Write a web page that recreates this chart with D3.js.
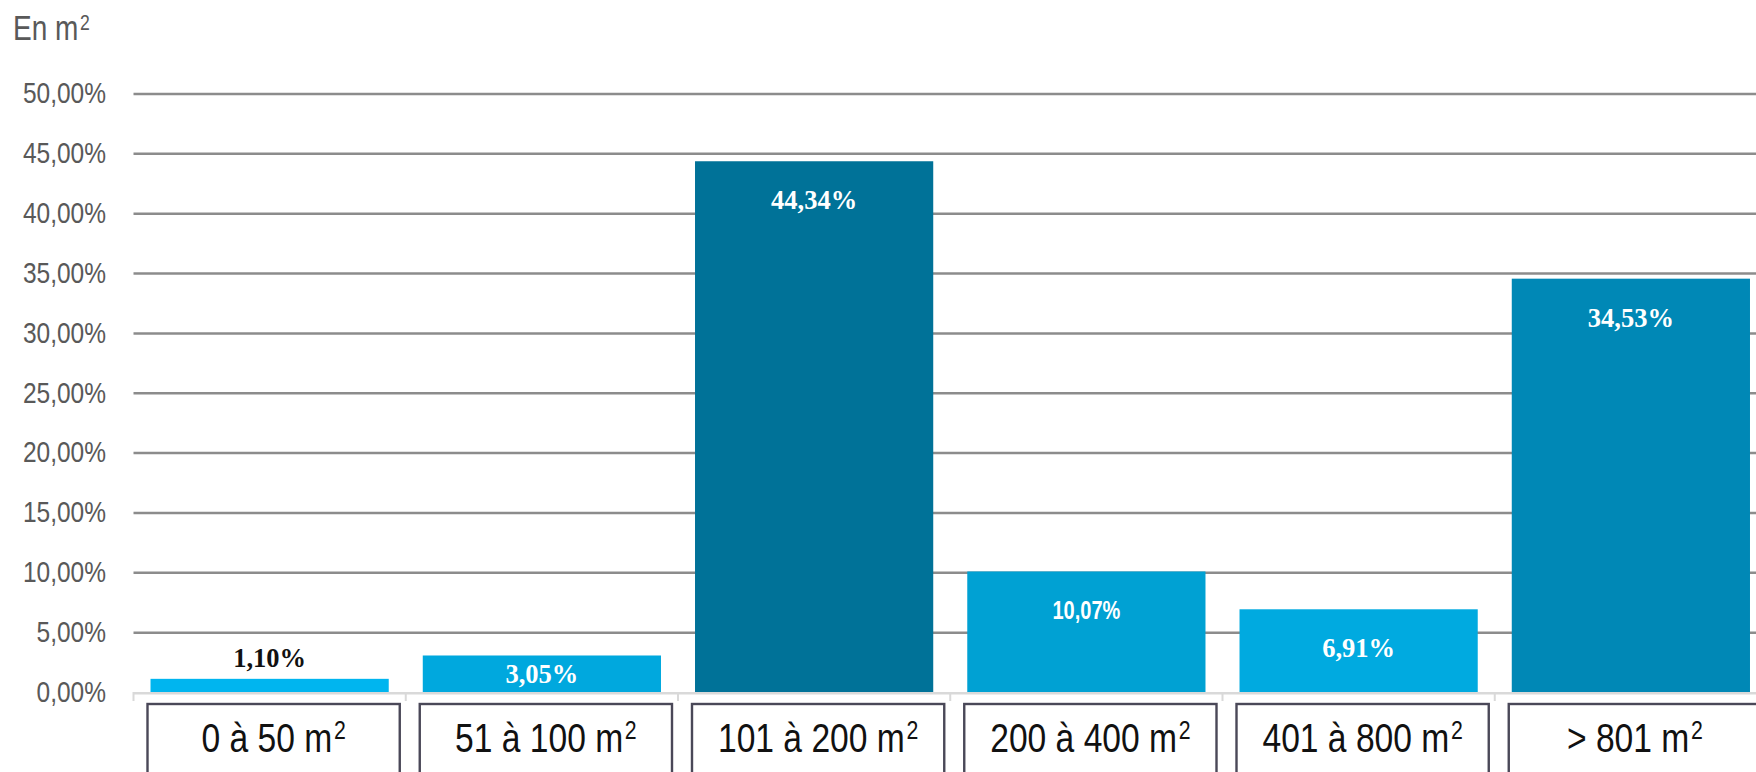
<!DOCTYPE html>
<html>
<head>
<meta charset="utf-8">
<script src="https://cdn.jsdelivr.net/npm/d3@7"></script>
<style>
  html, body { margin: 0; padding: 0; background: #ffffff; overflow: hidden; }
  svg { display: block; }
</style>
</head>
<body>
<svg id="chart" width="1756" height="772"></svg>
<script>
// Surface bands and their share of the total
const categories = ["0 à 50 m²", "51 à 100 m²", "101 à 200 m²", "200 à 400 m²", "401 à 800 m²", "> 801 m²"];
const shares = [1.10, 3.05, 44.34, 10.07, 6.91, 34.53];
const barColors = ["#00b5ef", "#00a8de", "#007298", "#00a1d3", "#00aae0", "#0088b6"];
const yTicks = [0, 5, 10, 15, 20, 25, 30, 35, 40, 45, 50];
const unitTitle = "En m²";

// Condensed look: a sans face squeezed horizontally
const SANS = '"Liberation Sans", Arial, sans-serif';
const SERIF = '"Liberation Serif", "Times New Roman", serif';

const fr = d3.formatLocale({ decimal: ",", thousands: " ", grouping: [3], currency: ["", " €"] });
const pct = v => fr.format(".2f")(v) + "%";

const svg = d3.select("#chart");

const x = d3.scaleBand()
  .domain(categories)
  .range([133.5, 1767])
  .paddingInner(0.125)
  .paddingOuter(0.0625);

const y = d3.scaleLinear()
  .domain([0, 50])
  .range([692, 93.5]);

// Text with a trailing "²" drawn as a raised small digit
function withSquare(sel, text, supSize, supDy) {
  const base = text.replace("²", "");
  sel.append("tspan").text(base);
  if (text.includes("²")) {
    sel.append("tspan")
      .attr("font-size", supSize)
      .attr("dx", 2)
      .attr("dy", supDy)
      .text("2");
  }
}

// Unit title
svg.append("text")
  .attr("transform", "translate(13,40) scale(0.8,1)")
  .attr("font-family", SANS)
  .attr("font-size", 35)
  .attr("fill", "#595959")
  .call(t => withSquare(t, unitTitle, 22, -10));

// Value axis with full-width grid lines
const tickSx = 0.845;
const gY = svg.append("g")
  .attr("transform", `translate(${x.range()[0]},0)`)
  .call(d3.axisLeft(y)
    .tickValues(yTicks)
    .tickSize(-(x.range()[1] - x.range()[0]))
    .tickPadding(27.5)
    .tickFormat(pct));
gY.select(".domain").remove();
gY.selectAll(".tick line")
  .attr("stroke", "#8c8c8c")
  .attr("stroke-width", 2.5)
  .attr("opacity", d => d === 0 ? 0 : 1);
gY.selectAll(".tick text")
  .attr("x", -27.5 / tickSx)
  .attr("transform", `scale(${tickSx},1)`)
  .attr("font-family", SANS)
  .attr("font-size", 29)
  .attr("fill", "#595959");

// Bars
const bars = svg.append("g");
bars.selectAll("rect")
  .data(categories)
  .join("rect")
  .attr("x", c => x(c))
  .attr("width", x.bandwidth())
  .attr("y", (c, i) => y(shares[i]))
  .attr("height", (c, i) => y(0) - y(shares[i]))
  .attr("fill", (c, i) => barColors[i]);

// Category axis: light baseline with separators between bands
const axisG = svg.append("g");
const x0 = x.range()[0];
const bounds = d3.range(categories.length + 1).map(i => x0 + i * x.step());
axisG.append("line")
  .attr("x1", x0).attr("x2", x.range()[1])
  .attr("y1", y(0) + 1.2).attr("y2", y(0) + 1.2)
  .attr("stroke", "#d9d9d9").attr("stroke-width", 2.5);
axisG.selectAll("line.sep")
  .data(bounds)
  .join("line")
  .attr("class", "sep")
  .attr("x1", d => d).attr("x2", d => d)
  .attr("y1", y(0)).attr("y2", y(0) + 9)
  .attr("stroke", "#d9d9d9").attr("stroke-width", 2);

// Framed category labels
const pad = (x.step() - x.bandwidth()) / 2;
const boxW = x.step() - 20;
const boxX = c => x(c) - pad + 14;
const boxes = svg.append("g").selectAll("g")
  .data(categories)
  .join("g");
boxes.append("rect")
  .attr("x", boxX)
  .attr("width", boxW)
  .attr("y", 704)
  .attr("height", 120)
  .attr("fill", "#ffffff")
  .attr("stroke", "#4a4858")
  .attr("stroke-width", 2.4);
boxes.append("text")
  .attr("transform", c => `translate(${boxX(c) + boxW / 2},752) scale(0.82,1)`)
  .attr("text-anchor", "middle")
  .attr("font-family", SANS)
  .attr("font-size", 41)
  .attr("fill", "#111111")
  .each(function (c) { withSquare(d3.select(this), c, 26, -13); });

// Value labels
const isSans = c => c === "200 à 400 m²";
const labels = svg.append("g");
labels.selectAll("text")
  .data(categories)
  .join("text")
  .attr("transform", (c, i) => {
    const top = y(shares[i]);
    const h = y(0) - top;
    const by = h < 20 ? top - 12 : top + Math.min(48, h / 2 + 9);
    const sx = isSans(c) ? 0.8 : 1;
    return `translate(${x(c) + x.bandwidth() / 2},${by}) scale(${sx},1)`;
  })
  .attr("text-anchor", "middle")
  .attr("font-weight", "bold")
  .attr("font-family", c => isSans(c) ? SANS : SERIF)
  .attr("font-size", c => isSans(c) ? 25 : 26.5)
  .attr("fill", (c, i) => (y(0) - y(shares[i])) < 20 ? "#111111" : "#ffffff")
  .text((c, i) => pct(shares[i]));
</script>
</body>
</html>
